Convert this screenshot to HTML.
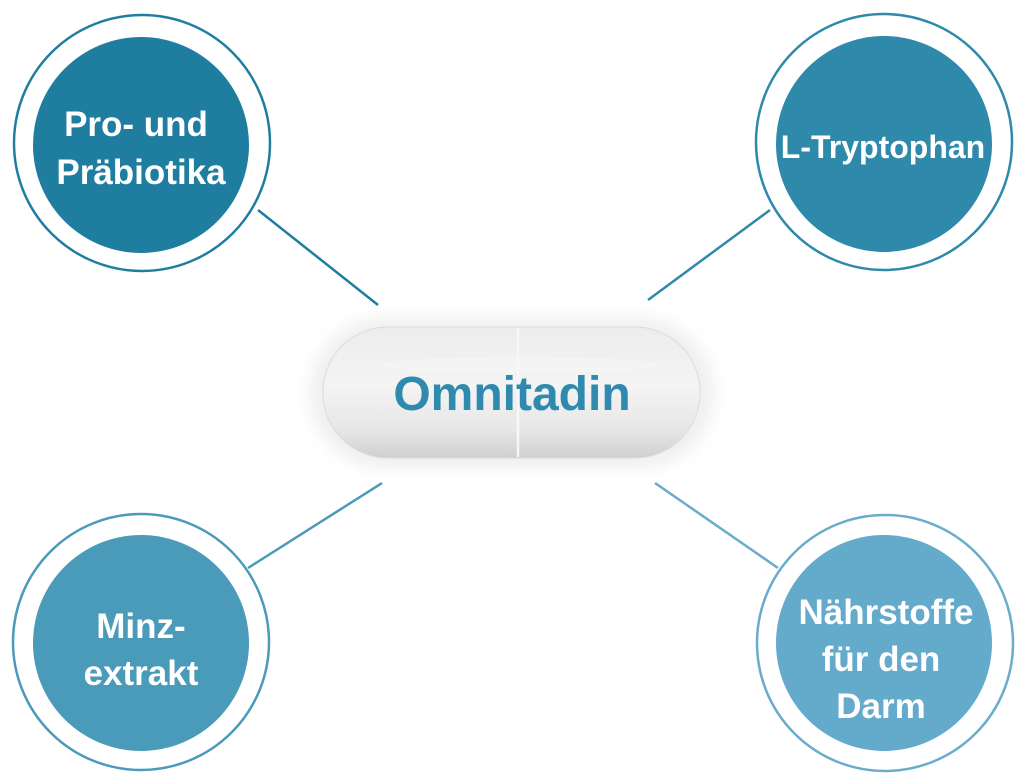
<!DOCTYPE html>
<html><head><style>
html,body{margin:0;padding:0;background:#fff;width:1024px;height:782px;overflow:hidden}
svg{display:block}
text{font-family:"Liberation Sans",Arial,sans-serif;font-weight:bold}
</style></head><body>
<svg width="1024" height="782" viewBox="0 0 1024 782">
<defs>
<filter id="glow" x="-20%" y="-40%" width="140%" height="180%"><feGaussianBlur stdDeviation="8"/></filter>
<linearGradient id="pg" x1="0" y1="0" x2="0" y2="1">
<stop offset="0" stop-color="#ececec"/><stop offset="0.45" stop-color="#f4f4f4"/><stop offset="0.8" stop-color="#e6e6e6"/><stop offset="1" stop-color="#cfcfcf"/>
</linearGradient>
</defs>
<g stroke-width="2.5" fill="none">
<line x1="258" y1="210" x2="378" y2="305" stroke="#1f7ea0"/>
<line x1="648" y1="300" x2="770" y2="210" stroke="#2e89ab"/>
<line x1="382" y1="483" x2="248" y2="568" stroke="#4a9ab9"/>
<line x1="655" y1="483" x2="778" y2="568" stroke="#6aaccb"/>
</g>
<circle cx="142" cy="143" r="128" fill="#fff" stroke="#1f7ea0" stroke-width="2.5"/>
<circle cx="141" cy="145" r="108" fill="#1f7ea0"/>
<circle cx="884" cy="142" r="128" fill="#fff" stroke="#2e89ab" stroke-width="2.5"/>
<circle cx="884" cy="144" r="108" fill="#2e89ab"/>
<circle cx="141" cy="642" r="128" fill="#fff" stroke="#4a9ab9" stroke-width="2.5"/>
<circle cx="141" cy="643" r="108" fill="#4a9ab9"/>
<circle cx="885" cy="643" r="128" fill="#fff" stroke="#6aaccb" stroke-width="2.5"/>
<circle cx="884" cy="643" r="108" fill="#63aacb"/>
<rect x="310" y="318" width="404" height="150" rx="75" fill="#e4e4e4" opacity="0.6" filter="url(#glow)"/>
<rect x="323" y="327" width="377" height="131" rx="65" fill="url(#pg)" stroke="#dcdcdc" stroke-width="1"/>
<ellipse cx="520" cy="365" rx="140" ry="8" fill="#f8f8f8" opacity="0.5"/>
<line x1="518" y1="328" x2="518" y2="457" stroke="#f7f7f7" stroke-width="2.5"/>
<text x="512" y="410" font-size="48" fill="#2f8aae" text-anchor="middle">Omnitadin</text>
<g fill="#fff" font-size="35" text-anchor="middle">
<text x="136" y="136">Pro- und</text>
<text x="141" y="184">Präbiotika</text>
<text x="883" y="158" font-size="32">L-Tryptophan</text>
<text x="141" y="638">Minz-</text>
<text x="141" y="685">extrakt</text>
<text x="886" y="624">Nährstoffe</text>
<text x="881" y="671">für den</text>
<text x="881" y="718">Darm</text>
</g>
</svg>
</body></html>
